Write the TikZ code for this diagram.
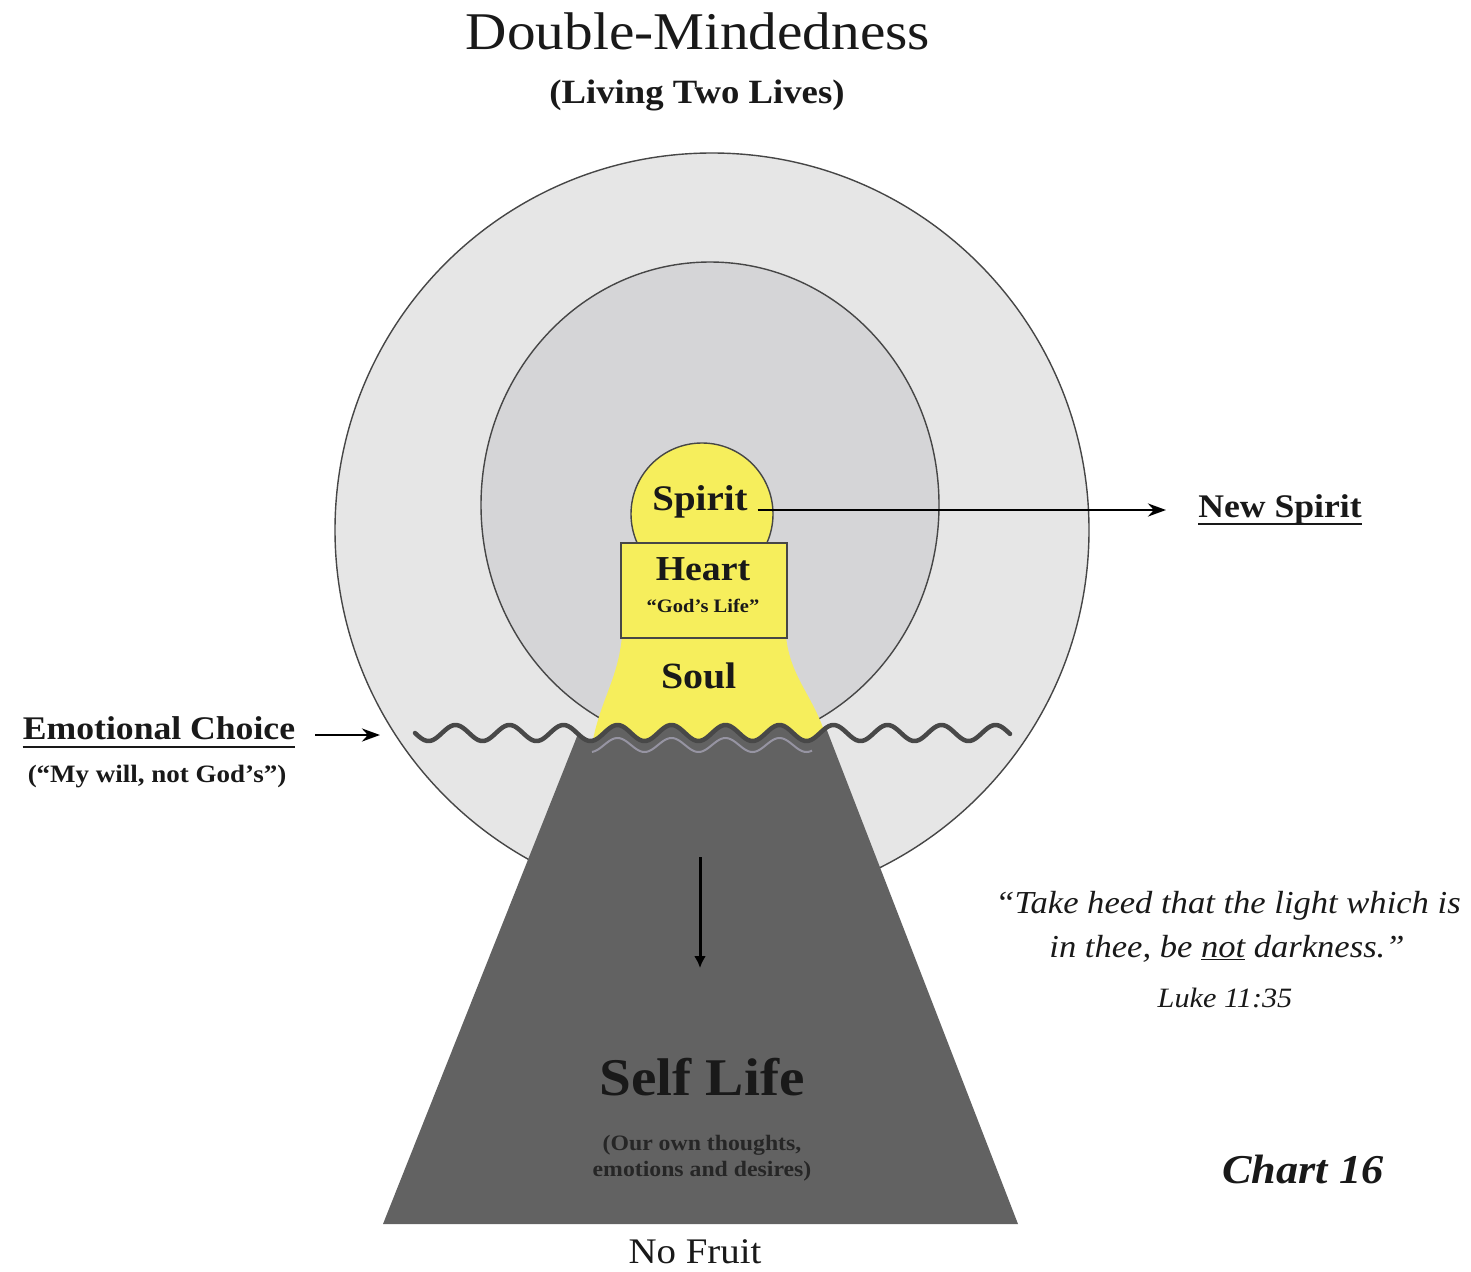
\documentclass[tikz,border=0pt]{standalone}
\usepackage{fontspec}
\setmainfont[FakeStretch=1.08]{Liberation Serif}
\usetikzlibrary{arrows.meta,calc}

\definecolor{outerc}{RGB}{230,230,230}
\definecolor{innerc}{RGB}{213,213,215}
\definecolor{yelc}{RGB}{246,238,92}
\definecolor{darkc}{RGB}{98,98,98}
\definecolor{wavec}{RGB}{72,72,72}
\definecolor{edgec}{RGB}{70,70,70}
\definecolor{textc}{RGB}{25,25,25}
\definecolor{lightwavec}{RGB}{150,148,162}

\newcommand{\fsz}[1]{\fontsize{#1}{#1}\selectfont}

\begin{document}
\begin{tikzpicture}[x=1pt,y=-1pt,
  lbl/.style={inner sep=0pt, anchor=base, text=textc},
  arr/.style={line width=2.8pt, draw=black, -{Stealth[length=18pt,width=13pt]}},
  ring/.style={draw=edgec, line width=1.4pt},
  ul/.style={line width=1.6pt, draw=textc}]
\useasboundingbox[fill=white] (0,0) rectangle (1471,1271);

% outer and inner circles
\filldraw[ring, fill=outerc] (712,530) circle[radius=377];
\filldraw[ring, fill=innerc] (710,505) ellipse[x radius=229, y radius=243];

% soul (yellow bell)
\fill[yelc] (622,636) .. controls (618,680) and (600,700) .. (592,745)
  -- (828,745) .. controls (818,700) and (790,680) .. (786,636) -- cycle;

% spirit circle and heart box
\node[circle, draw=edgec, line width=1.4pt, fill=yelc, minimum size=142pt, inner sep=0pt] (spiritc) at (702,514) {};
\node[draw=edgec, line width=1.8pt, fill=yelc, minimum width=166pt, minimum height=95pt, inner sep=0pt] (heartbox) at (704,590.5) {};

% dark trapezoid with wavy top
\fill[darkc] (383,1224) -- plot[domain=578:826, samples=120] (\x,{733+8*sin((\x-415)/54*360)}) -- (1018,1224) -- cycle;
\draw[lightwavec, line width=2pt] plot[domain=592:812, samples=120] (\x,{745+7*sin((\x-415)/54*360)});

% wave line
\draw[wavec, line width=4.5pt, line join=round, line cap=round] plot[domain=415:1010, samples=300] (\x,{733+8*sin((\x-415)/54*360)});

% titles
\node[lbl, font=\fsz{53}] (title) at (698,50) {Double-Mindedness};
\node[lbl, font=\bfseries\fsz{34}] (subtitle) at (697,103) {(Living Two Lives)};

% centre labels
\node[lbl, font=\bfseries\fsz{36}] (spirit) at (700,510) {Spirit};
\node[lbl, font=\bfseries\fsz{35}] (heart) at (703,580) {Heart};
\node[lbl, font=\bfseries\fsz{19}] (godslife) at (703,612) {“God’s Life”};
\node[lbl, font=\bfseries\fsz{37}] (soul) at (699,688) {Soul};

% new spirit
\node[lbl, font=\bfseries\fsz{33}] (newspirit) at (1280,517) {New Spirit};
\draw[ul] ($(newspirit.base west)+(0,7)$) -- ($(newspirit.base east)+(0,7)$);
\coordinate (nstip) at (1166,510);
\draw[arr] ([xshift=10pt]spirit.base east) -- (nstip);

% emotional choice
\node[lbl, font=\bfseries\fsz{33}] (emo) at (159,739) {Emotional Choice};
\draw[ul] ($(emo.base west)+(0,8)$) -- ($(emo.base east)+(0,8)$);
\node[lbl, font=\bfseries\fsz{25}] (emosub) at (157,782) {(“My will, not God’s”)};
\coordinate (emotip) at (380,735);
\draw[arr] ([xshift=20pt,yshift=4pt]emo.base east) -- (emotip);

% down arrow
\coordinate (dtop) at (700,857);
\coordinate (dbot) at (700,968);
\draw[line width=3pt, -{Latex[length=12pt,width=12pt]}] (dtop) -- (dbot);

% self life
\node[lbl, font=\bfseries\fsz{53}] (self) at (702,1095) {Self Life};
\node[lbl, font=\bfseries\fsz{22}, text=black!85] (selfsub1) at (702,1150) {(Our own thoughts,};
\node[lbl, font=\bfseries\fsz{22}, text=black!85] (selfsub2) at (702,1176) {emotions and desires)};
\node[lbl, font=\fsz{36}] (nofruit) at (695,1263) {No Fruit};

% quote
\node[lbl, font=\itshape\fsz{32}] (q1) at (1228,913) {“Take heed that the light which is};
\node[lbl, font=\itshape\fsz{32}] (q2) at (1227,957) {in thee, be \underline{not} darkness.”};
\node[lbl, font=\itshape\fsz{28}] (luke) at (1225,1007) {Luke 11:35};
\node[lbl, font=\bfseries\itshape\fsz{41}] (chart) at (1303,1183) {Chart 16};
\end{tikzpicture}
\end{document}
